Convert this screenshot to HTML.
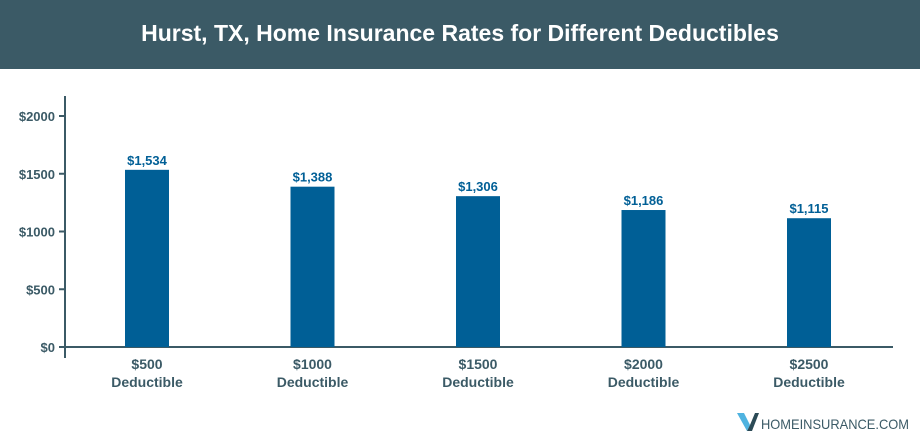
<!DOCTYPE html>
<html><head><meta charset="utf-8"><style>
body{margin:0;width:920px;height:440px;background:#fff;font-family:"Liberation Sans",sans-serif;overflow:hidden}
.hdr{position:absolute;left:0;top:0;width:920px;height:69px;background:#3b5a66;color:#fff;font-weight:bold;font-size:23px;text-align:center;line-height:67px}
svg{position:absolute;left:0;top:0}
</style></head><body>
<div class="hdr">Hurst, TX, Home Insurance Rates for Different Deductibles</div>
<svg id="c" width="920" height="440"></svg>
<script>
const categories=["$500","$1000","$1500","$2000","$2500"];
const values=[1534,1388,1306,1186,1115];
const valueLabels=["$1,534","$1,388","$1,306","$1,186","$1,115"];
const ticks=[0,500,1000,1500,2000];
const NS="http://www.w3.org/2000/svg";
const svg=document.getElementById('c');
const y0=347,y1=116,maxV=2000;
const y=v=>y0-(y0-y1)*v/maxV;
const x=i=>147+i*165.5;
function mk(t,a,txt){const e=document.createElementNS(NS,t);for(const k in a)e.setAttribute(k,a[k]);if(txt!=null)e.textContent=txt;svg.appendChild(e);return e;}
let e;
e=mk('line',{x1:65,y1:96,x2:65,y2:358,stroke:'#3b5a66','stroke-width':2});


e=mk('line',{x1:62,y1:y0,x2:893,y2:y0,stroke:'#3b5a66','stroke-width':2});


ticks.forEach(t=>{
 e=mk('line',{x1:59,y1:y(t),x2:65,y2:y(t),stroke:'#3b5a66','stroke-width':2});
 
 
 e=mk('text',{x:55,y:y(t)+5,'text-anchor':'end','font-size':13,'font-weight':'bold',fill:'#3b5a66'},'$'+t);
 
 
});
values.forEach((v,i)=>{
 e=mk('rect',{x:x(i)-22,y:y(v),width:44,height:y0-y(v),fill:'#005f96'});
 
 
 e=mk('text',{x:x(i),y:y(v)-5,'text-anchor':'middle','font-size':13,'font-weight':'bold',fill:'#005f96'},valueLabels[i]);
 
 
 e=mk('text',{x:x(i),y:369,'text-anchor':'middle','font-size':14,'font-weight':'bold',fill:'#3b5a66'},categories[i]);
 
 
 e=mk('text',{x:x(i),y:387,'text-anchor':'middle','font-size':14,'font-weight':'bold',fill:'#3b5a66'},'Deductible');
 
 
});
e=mk('polygon',{points:'737,413 744,413 750,425 747,431',fill:'#4fb3e0'});


e=mk('polygon',{points:'750,425 755,413 759,413 752,431 747,431',fill:'#2b4a56'});


e=mk('text',{x:761,y:429,'font-size':14,fill:'#3b5a66',textLength:148,lengthAdjust:'spacingAndGlyphs'},'HOMEINSURANCE.COM');


</script>
</body></html>
